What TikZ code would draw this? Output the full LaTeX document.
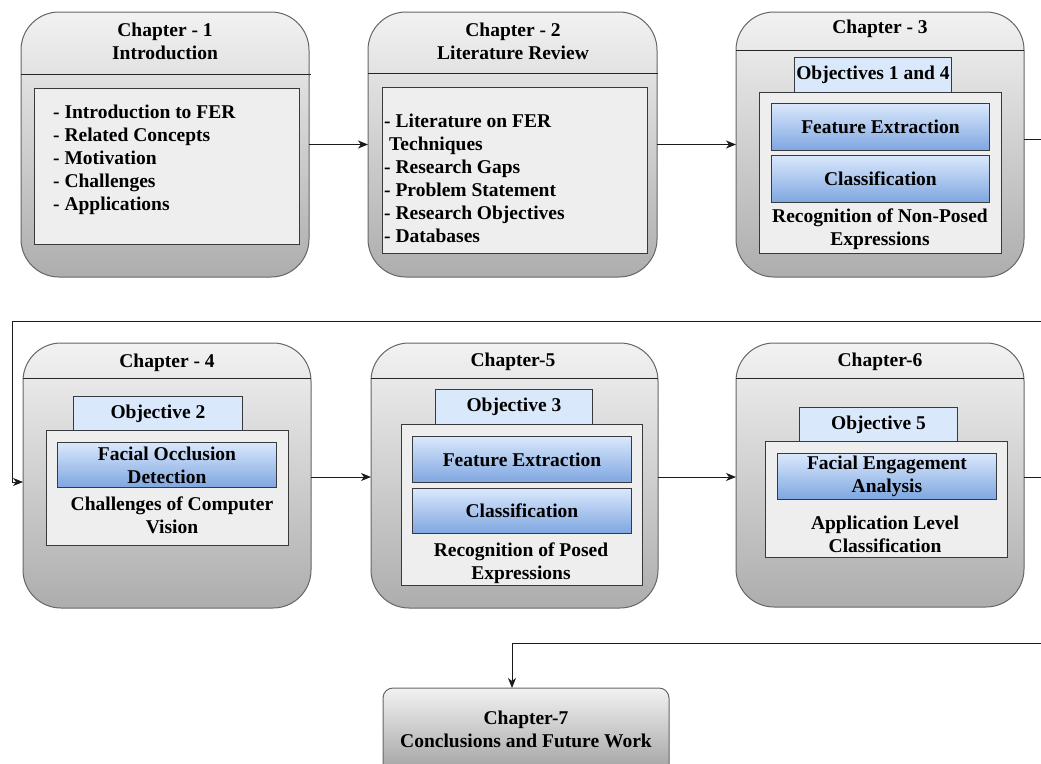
\documentclass[tikz,border=0pt]{standalone}
\usepackage{fontspec}
\setmainfont{Liberation Serif}
\usetikzlibrary{arrows.meta}
\newcommand\chapfont{\fontsize{19.5}{23}\selectfont\bfseries}
\definecolor{chtop}{HTML}{F2F2F2}
\definecolor{chbot}{HTML}{ADADAD}
\definecolor{chline}{HTML}{666666}
\definecolor{panelfill}{HTML}{EEEEEE}
\definecolor{panelline}{HTML}{36393D}
\definecolor{objfill}{HTML}{DAE8FC}
\definecolor{bluetop}{HTML}{DAE8FC}
\definecolor{bluebot}{HTML}{7EA6E0}
\definecolor{wire}{HTML}{1A1A1A}
\tikzset{
  chapbox/.style={draw=chline, line width=1pt, rounded corners=38pt,
    top color=chtop, bottom color=chbot, anchor=north west, inner sep=0pt, outer sep=0pt},
  endbox/.style={chapbox, rounded corners=10pt, top color=chtop, bottom color=chbot!85!black},
  panel/.style={draw=panelline, fill=panelfill, line width=0.9pt, anchor=north west, inner sep=0pt},
  objbox/.style={draw=panelline, fill=objfill, line width=0.9pt, anchor=north west,
    inner sep=0pt, font=\chapfont},
  stagebox/.style={draw=panelline, top color=bluetop, bottom color=bluebot, line width=0.9pt,
    anchor=north west, inner sep=0pt, font=\chapfont, align=center},
  hdrline/.style={draw=black!85, line width=1pt},
  txt/.style={font=\chapfont, align=center, inner sep=0pt},
  listtxt/.style={font=\chapfont, align=left, inner sep=0pt, anchor=base west},
  flow/.style={draw=wire, line width=1pt, -{Stealth[length=10pt,width=8pt,inset=3pt]}}
}
\begin{document}
\begin{tikzpicture}[x=1pt,y=-1pt]
\useasboundingbox (0,0) rectangle (1041,763);
\clip (0,0) rectangle (1041,763);

% ---------------- Chapter 1 ----------------
\node[chapbox, minimum width=288pt, minimum height=265pt] (c1) at (21,12) {};
\draw[hdrline] (21,74) -- (311,74);
\node[txt] (c1h) at (165,41) {Chapter - 1\\Introduction};
\node[panel, minimum width=265pt, minimum height=156pt] (c1p) at (34,88) {};
% anchored at the baseline of the last line
\node[listtxt] (c1l) at (53,210.5) {- Introduction to FER\\- Related Concepts\\- Motivation\\- Challenges\\- Applications};

% ---------------- Chapter 2 ----------------
\node[chapbox, minimum width=289pt, minimum height=265pt] (c2) at (368,12) {};
\draw[hdrline] (368,73) -- (658,73);
\node[txt] (c2h) at (513,41) {Chapter - 2\\Literature Review};
\node[panel, minimum width=265pt, minimum height=166pt] (c2p) at (382,87) {};
\node[listtxt] (c2l) at (384,242.5) {- Literature on FER\\\hspace*{5pt}Techniques\\- Research Gaps\\- Problem Statement\\- Research Objectives\\- Databases};

% ---------------- Chapter 3 ----------------
\node[chapbox, minimum width=288pt, minimum height=265pt] (c3) at (736,12) {};
\draw[hdrline] (736,50) -- (1024,50);
\node[txt] (c3h) at (880,29) {Chapter - 3};
\node[objbox, minimum width=157pt, minimum height=35pt] (c3o) at (794,57) {Objectives 1 and 4};
\node[panel, minimum width=242pt, minimum height=161pt] (c3p) at (759,92) {};
\node[stagebox, minimum width=218pt, minimum height=47pt] (c3a) at (771,103) {Feature Extraction};
\node[stagebox, minimum width=218pt, minimum height=47pt] (c3b) at (771,155) {Classification};
\node[txt] (c3t) at (880,229.5) {Recognition of Non-Posed\\Expressions};

% ---------------- Chapter 4 ----------------
\node[chapbox, minimum width=288pt, minimum height=265pt] (c4) at (23,343) {};
\draw[hdrline] (23,378) -- (311,378);
\node[txt] (c4h) at (167,363) {Chapter - 4};
\node[objbox, minimum width=169pt, minimum height=34pt] (c4o) at (73,396) {Objective 2};
\node[panel, minimum width=242pt, minimum height=115pt] (c4p) at (46,430) {};
\node[stagebox, minimum width=219pt, minimum height=45pt] (c4a) at (57,442) {Facial Occlusion\\Detection};
\node[txt] (c4t) at (172,515.5) {Challenges of Computer\\Vision};

% ---------------- Chapter 5 ----------------
\node[chapbox, minimum width=287pt, minimum height=265pt] (c5) at (371,343) {};
\draw[hdrline] (371,378) -- (658,378);
\node[txt] (c5h) at (513,362) {Chapter-5};
\node[objbox, minimum width=157pt, minimum height=35pt] (c5o) at (435,389) {Objective 3};
\node[panel, minimum width=241pt, minimum height=161pt] (c5p) at (401,424) {};
\node[stagebox, minimum width=219pt, minimum height=46pt] (c5a) at (412,436) {Feature Extraction};
\node[stagebox, minimum width=219pt, minimum height=45pt] (c5b) at (412,488) {Classification};
\node[txt] (c5t) at (521,563.5) {Recognition of Posed\\Expressions};

% ---------------- Chapter 6 ----------------
\node[chapbox, minimum width=288pt, minimum height=264pt] (c6) at (736,343) {};
\draw[hdrline] (736,378) -- (1024,378);
\node[txt] (c6h) at (880,362) {Chapter-6};
\node[objbox, minimum width=158pt, minimum height=34pt] (c6o) at (799,407) {Objective 5};
\node[panel, minimum width=242pt, minimum height=116pt] (c6p) at (765,441) {};
\node[stagebox, minimum width=219pt, minimum height=46pt] (c6a) at (777,453) {Facial Engagement\\Analysis};
\node[txt] (c6t) at (885,534) {Application Level\\Classification};

% ---------------- Chapter 7 ----------------
\node[endbox, minimum width=286pt, minimum height=100pt] (c7) at (383,688) {};
\node[txt] (c7t) at (526,729.5) {Chapter-7\\Conclusions and Future Work};

% ---------------- Connectors ----------------
\draw[flow] (c1.east) -- (c2.west);
\draw[flow] (c2.east) -- (c3.west);
\draw[flow] (c3.east |- 0,139) -- (1060,139) -- (1060,321) -- (12,321) -- (12,482) -- (c4.west |- 0,482);
\draw[flow] (c4.east |- 0,477) -- (c5.west |- 0,477);
\draw[flow] (c5.east |- 0,477) -- (c6.west |- 0,477);
\draw[flow] (c6.east |- 0,477) -- (1060,477) -- (1060,643) -- (512,643) -- (c7.north -| 512,0);
\end{tikzpicture}
\end{document}
